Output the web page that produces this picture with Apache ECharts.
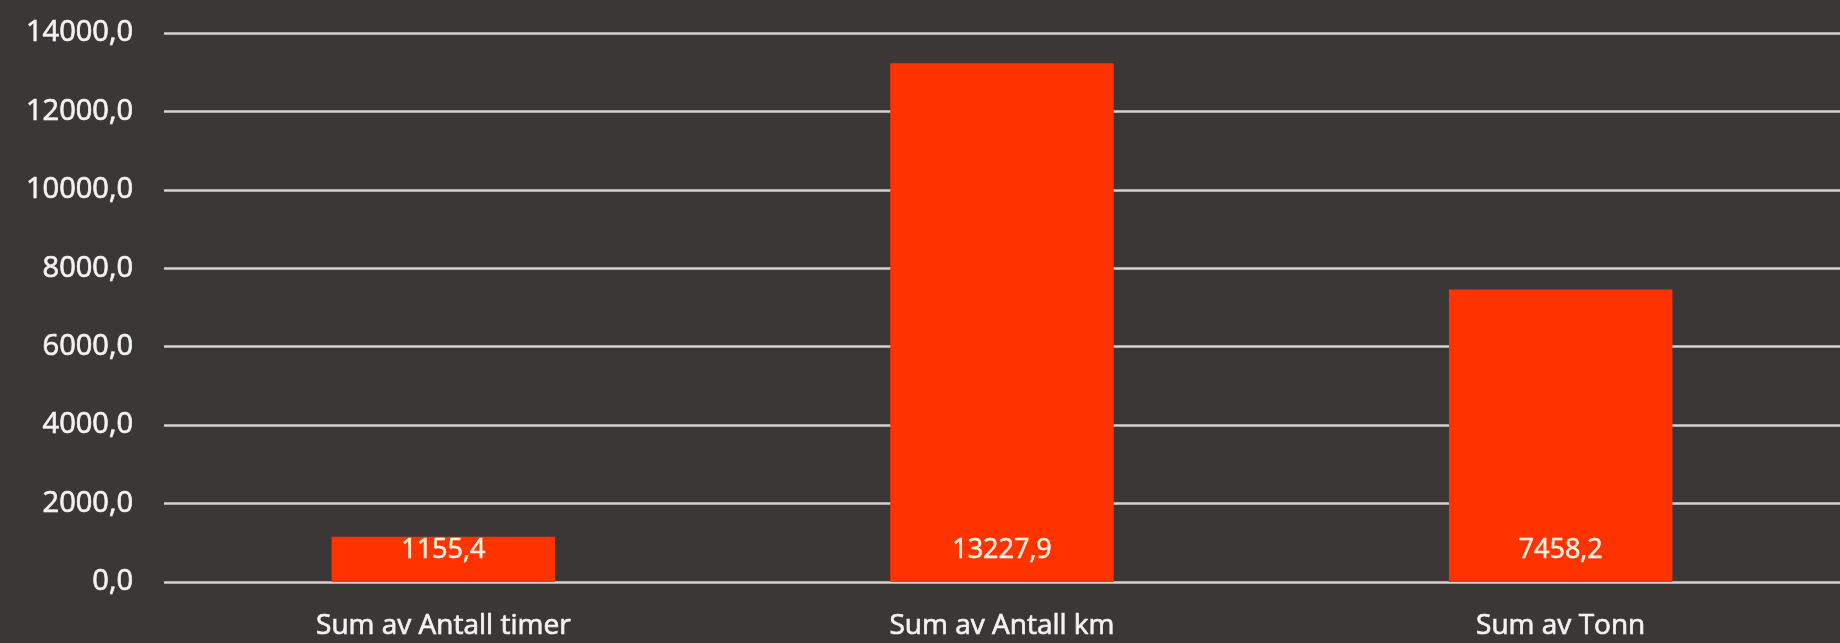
<!DOCTYPE html>
<html>
<head>
<meta charset="utf-8">
<script src="https://cdn.jsdelivr.net/npm/echarts@6/dist/echarts.min.js"></script>
<style>
html,body{margin:0;padding:0;background:#3b3737;}
#chart{width:1840px;height:643px;}
</style>
</head>
<body>
<div id="chart"></div>
<script>
const categories = ['Sum av Antall timer', 'Sum av Antall km', 'Sum av Tonn'];
const values = [1155.4, 13227.9, 7458.2];
const yMin = 0, yMax = 14000, yStep = 2000;

function fmt(v) { return Number(v).toFixed(1).replace('.', ','); }

const FONT = 'Open Sans';
const TXT = '#f2f2f2';
const chart = echarts.init(document.getElementById('chart'), null, {renderer: 'canvas'});
chart.setOption({
  backgroundColor: '#3b3737',
  animation: false,
  grid: {left: 164, right: 0, top: 33, bottom: 61, containLabel: false},
  xAxis: {
    type: 'category',
    data: categories,
    axisLine: {show: false},
    axisTick: {show: false},
    axisLabel: {color: TXT, fontFamily: FONT, fontSize: 28, margin: 30,
      textBorderColor: TXT, textBorderWidth: 0.7}
  },
  yAxis: {
    type: 'value',
    min: yMin, max: yMax, interval: yStep,
    axisLine: {show: false},
    axisTick: {show: false},
    splitLine: {lineStyle: {color: '#d4d4d4', width: 2.5}},
    axisLabel: {color: TXT, fontFamily: FONT, fontSize: 29, margin: 31, formatter: fmt,
      textBorderColor: TXT, textBorderWidth: 0.7}
  },
  series: [{
    type: 'bar',
    data: values,
    barWidth: '40%',
    itemStyle: {color: '#ff3300'},
    label: {
      show: true,
      position: 'insideBottom',
      distance: 18,
      color: '#fdf0e0',
      textBorderColor: '#fdf0e0',
      textBorderWidth: 0.6,
      fontFamily: FONT,
      fontSize: 27,
      formatter: p => fmt(p.value)
    }
  }]
});
</script>
</body>
</html>
